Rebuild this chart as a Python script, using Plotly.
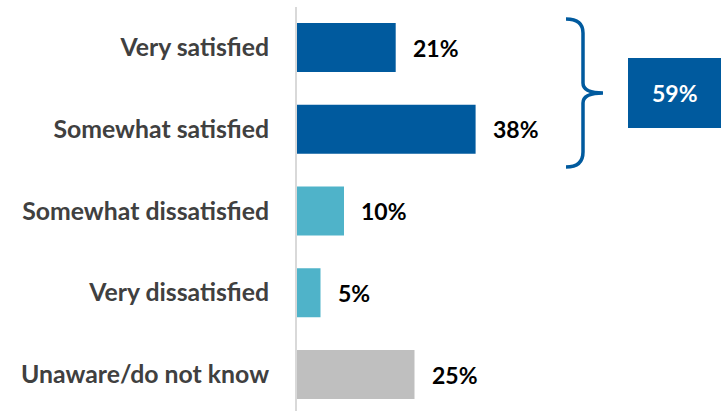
import plotly.graph_objects as go

categories = ["Very satisfied", "Somewhat satisfied", "Somewhat dissatisfied",
              "Very dissatisfied", "Unaware/do not know"]
values = [21, 38, 10, 5, 25]
bar_colors = ["#005A9E", "#005A9E", "#4FB3C9", "#4FB3C9", "#BFBFBF"]
value_labels = [f"{v}%" for v in values]
satisfied_total = values[0] + values[1]
total_label = f"{satisfied_total}%"

W, H = 721, 411
PLOT_LEFT = 297
PX_PER_UNIT = 4.7
XMAX = (W - PLOT_LEFT) / PX_PER_UNIT
CAT_STEP = 81.75
CAT0_PX = 47.5
TOP = 7


def px_x(px):
    return (px - PLOT_LEFT) / PX_PER_UNIT


def px_y(py):
    return (py - CAT0_PX) / CAT_STEP


FONT = "Lato, 'Open Sans', sans-serif"
BLUE = bar_colors[0]

fig = go.Figure()
fig.add_trace(go.Bar(
    x=values, y=categories, orientation="h",
    marker=dict(color=bar_colors, line=dict(width=0)),
    width=0.6, hoverinfo="skip",
))

for c, v, t in zip(categories, values, value_labels):
    fig.add_annotation(x=v, y=c, text=t, showarrow=False, xanchor="left",
                       xshift=15, font=dict(family=FONT, size=23, color="#000000",
                                            weight="bold"))

# brace grouping the satisfied categories
bx_l, bx_s, bx_t = px_x(566), px_x(583), px_x(603)
y_top, y_top2 = px_y(19), px_y(33)
y_m1, y_mid, y_m2 = px_y(83), px_y(93), px_y(103)
y_b2, y_bot = px_y(152), px_y(167)
path = (f"M {bx_l},{y_top} Q {bx_s},{y_top} {bx_s},{y_top2} "
        f"L {bx_s},{y_m1} Q {bx_s},{y_mid} {bx_t},{y_mid} "
        f"Q {bx_s},{y_mid} {bx_s},{y_m2} "
        f"L {bx_s},{y_b2} Q {bx_s},{y_bot} {bx_l},{y_bot}")
fig.add_shape(type="path", path=path, xref="x", yref="y",
              line=dict(color=BLUE, width=3.5))

fig.add_shape(type="rect", xref="x", yref="y",
              x0=px_x(628), x1=XMAX + 2, y0=px_y(58), y1=px_y(128),
              fillcolor=BLUE, line=dict(width=0))
fig.add_annotation(x=px_x(675), y=px_y(93), xref="x", yref="y",
                   text=total_label, showarrow=False,
                   font=dict(family=FONT, size=23, color="#FFFFFF", weight="bold"))

fig.update_layout(
    width=W, height=H,
    margin=dict(l=PLOT_LEFT, r=0, t=TOP, b=0, pad=0),
    plot_bgcolor="white", paper_bgcolor="white",
    showlegend=False,
    xaxis=dict(range=[0, XMAX], visible=False, showgrid=False, zeroline=False),
    yaxis=dict(
        categoryorder="array", categoryarray=categories,
        range=[px_y(H), px_y(TOP)],
        showline=True, linecolor="#D9D9D9", linewidth=2,
        showgrid=False, zeroline=False, ticks="",
        ticklabelstandoff=21, automargin=False,
        tickfont=dict(family=FONT, size=24.8, color="#404040", weight="bold"),
    ),
)

fig.write_html("out.html",
               config={"displayModeBar": False},
               post_script="document.body.style.margin='0';"
                           "document.body.style.overflow='hidden';")
